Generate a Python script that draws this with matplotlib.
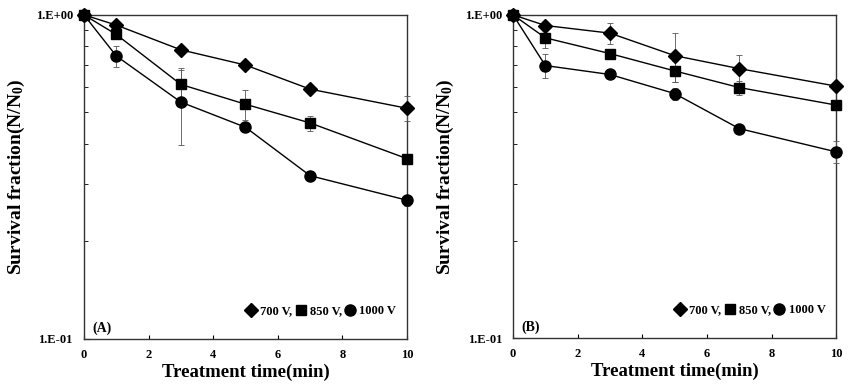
import numpy as np
import matplotlib
matplotlib.use("Agg")
import matplotlib.pyplot as plt
from matplotlib.lines import Line2D
from matplotlib.ticker import LogLocator, NullFormatter, FixedLocator

plt.rcParams['font.family'] = ['Liberation Serif', 'DejaVu Serif']
plt.rcParams['font.weight'] = 'bold'
plt.rcParams['mathtext.fontset'] = 'custom'
plt.rcParams['mathtext.rm'] = 'Liberation Serif:bold'
plt.rcParams['mathtext.it'] = 'Liberation Serif:bold'

# treatment time (min)
time = [0, 1, 3, 5, 7, 10]

# panel A
a_700 = [1.0, 0.93, 0.78, 0.70, 0.59, 0.515]
a_850 = [1.0, 0.87, 0.61, 0.53, 0.464, 0.36]
a_1000 = [1.0, 0.747, 0.538, 0.45, 0.319, 0.268]
a_700_err = [0, 0.015, 0.015, 0.015, 0.015, 0.045]
a_850_err = [0, 0.03, 0.075, 0.055, 0.025, 0.01]
a_1000_err = [0, 0.055, 0.14, 0.015, 0.01, 0.01]

# panel B
b_700 = [1.0, 0.927, 0.878, 0.748, 0.682, 0.602]
b_850 = [1.0, 0.849, 0.759, 0.671, 0.596, 0.526]
b_1000 = [1.0, 0.697, 0.654, 0.571, 0.445, 0.377]
b_700_err = [0, 0.015, 0.065, 0.13, 0.07, 0.01]
b_850_err = [0, 0.06, 0.015, 0.05, 0.03, 0.01]
b_1000_err = [0, 0.06, 0.015, 0.025, 0.01, 0.03]

labels = ['700 V,', '850 V,', '1000 V']
markers = ['D', 's', 'o']
msizes = [7.5, 7.2, 8]

panels = [
    ('(A)', [a_700, a_850, a_1000], [a_700_err, a_850_err, a_1000_err], [0.099, 0.133, 0.381, 0.829]),
    ('(B)', [b_700, b_850, b_1000], [b_700_err, b_850_err, b_1000_err], [0.605, 0.135, 0.381, 0.827]),
]

fig = plt.figure(figsize=(8.48, 3.91), dpi=100)

for tag, series, errs, pos in panels:
    ax = fig.add_axes(pos)
    for ys, es, m, ms in zip(series, errs, markers, msizes):
        ax.errorbar(time, ys, yerr=es, fmt='-', color='black', marker=m, markersize=ms,
                    linewidth=1.0, elinewidth=0.6, ecolor='#555555', capsize=2, capthick=0.6,
                    clip_on=False, zorder=3)
    ax.set_yscale('log')
    ax.set_ylim(0.1, 1.0)
    ax.set_xlim(0, 10)
    ax.yaxis.set_major_locator(FixedLocator([0.1, 1.0]))
    ax.yaxis.set_minor_locator(LogLocator(base=10, subs=np.arange(2, 10)))
    ax.yaxis.set_minor_formatter(NullFormatter())
    ax.set_yticklabels(['1.E-01', '1.E+00'])
    ax.set_xticks([0, 2, 4, 6, 8, 10])
    ax.tick_params(axis='both', which='both', direction='in', labelsize=9, top=False, right=False)
    ax.tick_params(axis='y', which='major', length=4, pad=8)
    ax.tick_params(axis='y', which='minor', length=3)
    ax.tick_params(axis='x', which='major', length=3, pad=7)
    for s in ax.spines.values():
        s.set_linewidth(1.0)
        s.set_color('#333333')
    ax.set_xlabel('Treatment time(min)', fontsize=13.5, fontweight='bold', labelpad=2)
    ax.set_ylabel('Survival fraction(N/N$_0$)', fontsize=14, fontweight='bold', labelpad=6)
    ax.text(0.025, 0.012, tag, transform=ax.transAxes, fontsize=10, fontweight='bold',
            ha='left', va='bottom')
    handles = [Line2D([], [], color='black', marker=m, linestyle='none', markersize=ms)
               for m, ms in zip(markers, msizes)]
    ax.legend(handles, labels, ncol=3, loc='lower right', bbox_to_anchor=(0.99, 0.045),
              frameon=False, fontsize=9, handlelength=0.85, handletextpad=0.3,
              columnspacing=0.25, borderpad=0.1)

fig.savefig('out.png', dpi=100)
